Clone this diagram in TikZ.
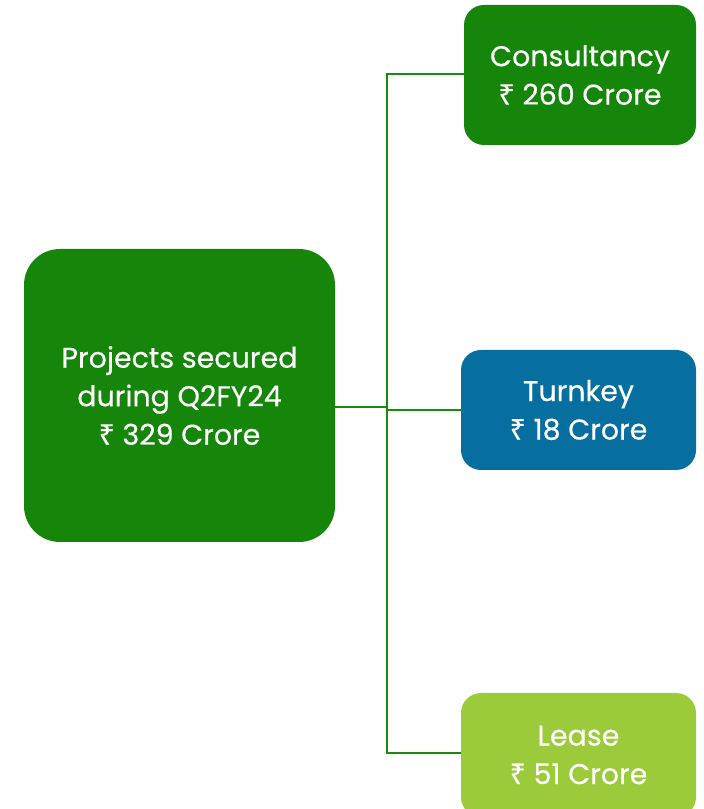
\documentclass[tikz,border=0pt]{standalone}
\usepackage{fontspec}
\setmainfont{Poppins}[FakeBold=0.4]
\newfontfamily\rupeefont{Noto Sans}[FakeBold=0.4]
\newcommand{\inr}{{\rupeefont ₹}}
\definecolor{boxgreen}{HTML}{15860A}
\definecolor{boxblue}{HTML}{076EA0}
\definecolor{boxlime}{HTML}{9BCB3B}
\definecolor{linkgreen}{HTML}{1A8C0C}
\tikzset{
  x=1pt, y=1pt,
  card/.style={fill=#1, draw=none, text=white, align=center,
    font=\fontsize{28.5}{38.5}\selectfont},
  link/.style={draw=linkgreen, line width=2pt},
}
\begin{document}
\begin{tikzpicture}
\useasboundingbox (0,0) rectangle (704,809);
% main summary card
\node[card=boxgreen, rounded corners=36pt, minimum width=311pt, minimum height=293pt]
  (main) at (179.5,413.5) {Projects secured\\during Q2FY24\\\inr{} 329 Crore};
% segment cards
\node[card=boxgreen, rounded corners=20pt, minimum width=232pt, minimum height=140pt]
  (cons) at (580,734) {Consultancy\\\inr{} 260 Crore};
\node[card=boxblue, rounded corners=20pt, minimum width=235pt, minimum height=120pt]
  (turn) at (578.5,399) {Turnkey\\\inr{} 18 Crore};
\node[card=boxlime, rounded corners=20pt, minimum width=235pt, minimum height=124pt]
  (lease) at (578.5,54) {Lease\\\inr{} 51 Crore};
% tree connectors
\coordinate (trunk) at (387,401.5);
\draw[link] (main.east |- trunk) -- (trunk);
\draw[link] (cons.west |- 0,735) -| (trunk) |- (lease.west |- 0,56);
\draw[link] (trunk |- 0,399) -- (turn.west |- 0,399);
\end{tikzpicture}
\end{document}
